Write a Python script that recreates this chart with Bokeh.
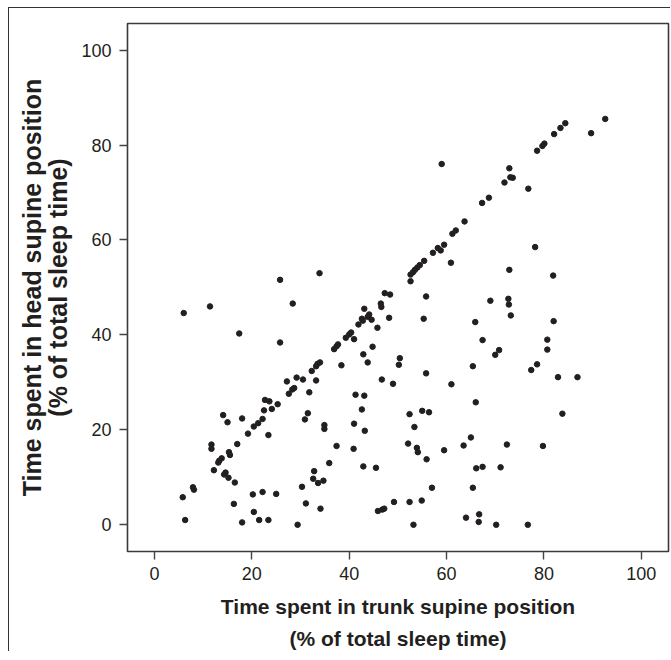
from bokeh.plotting import figure
from bokeh.models import Range1d, FixedTicker, ColumnDataSource
from bokeh.embed import file_html
from bokeh.resources import INLINE

# Time in trunk supine position (% TST), time in head supine position (% TST)
points = [
    (92.6, 85.5), (89.7, 82.5), (84.4, 84.6), (83.4, 83.6), (82.1, 82.3), (80.1, 80.3),
    (79.7, 79.8), (78.6, 78.8), (72.9, 75.1), (73.1, 73.2), (73.6, 73.1), (71.9, 72.1),
    (76.8, 70.8), (59.0, 76.0), (68.7, 68.9), (67.3, 67.8), (63.7, 63.9), (61.9, 62.0),
    (61.2, 61.3), (59.5, 59.0), (58.2, 58.3), (58.8, 57.8), (57.2, 57.3), (55.4, 55.6),
    (60.9, 55.2), (54.5, 54.7), (54.0, 54.2), (53.5, 53.7), (53.1, 53.2), (52.6, 52.7),
    (72.9, 53.7), (78.2, 58.5), (81.9, 52.5), (25.8, 51.6), (33.9, 53.0),
    (52.6, 51.3), (47.3, 48.8), (48.4, 48.5), (55.8, 48.1), (6.0, 44.6), (11.4, 46.0),
    (28.4, 46.6), (69.0, 47.2), (72.7, 47.6), (72.8, 46.4), (73.2, 44.1), (43.1, 45.5),
    (46.5, 46.6), (46.6, 45.9), (44.1, 44.3), (43.8, 43.8), (42.6, 43.4), (42.8, 43.0),
    (41.9, 42.2), (44.6, 43.2), (48.2, 43.6), (55.3, 43.4), (45.8, 41.5), (65.9, 42.7),
    (82.0, 42.9), (17.4, 40.3), (40.0, 40.1), (40.4, 40.5), (39.3, 39.4), (41.0, 39.1),
    (67.4, 38.9), (25.8, 38.4), (37.7, 38.0), (37.4, 37.6), (36.9, 37.0), (44.8, 37.5),
    (80.7, 39.0), (80.7, 36.9), (70.8, 36.8), (70.0, 35.8), (42.9, 35.9), (50.4, 35.1),
    (50.2, 33.7), (43.8, 34.2), (34.0, 34.2), (33.5, 33.9), (33.2, 33.4), (38.4, 33.6),
    (65.4, 33.4), (78.6, 33.8), (77.4, 32.6), (55.8, 31.9), (32.3, 32.4), (29.2, 31.0),
    (30.5, 30.6), (33.2, 30.4), (27.2, 30.2), (46.7, 30.6), (49.0, 29.7), (61.0, 29.6),
    (82.9, 31.1), (86.9, 31.1), (28.7, 28.8), (28.3, 28.5), (27.6, 27.6), (31.8, 27.9),
    (41.3, 27.4), (43.1, 27.2), (22.7, 26.3), (23.6, 26.0), (25.3, 25.4), (22.5, 24.1),
    (24.1, 24.4), (42.6, 24.3), (66.0, 25.8), (14.1, 23.1), (18.0, 22.4), (15.0, 21.6),
    (22.2, 22.3), (21.3, 21.4), (20.4, 20.7), (19.2, 19.2), (23.4, 18.9), (31.5, 23.5),
    (30.9, 22.2), (34.9, 21.0), (34.9, 20.2), (41.0, 21.3), (43.2, 19.8), (52.4, 23.3),
    (55.0, 24.0), (56.4, 23.7), (53.4, 20.6), (83.8, 23.4), (65.0, 18.4), (63.5, 16.7),
    (72.4, 16.9), (79.8, 16.6), (59.5, 15.7), (52.1, 17.1), (53.9, 16.2), (54.1, 15.3),
    (55.9, 13.8), (40.9, 16.0), (37.4, 16.6), (17.0, 17.0), (11.7, 16.9), (11.7, 16.0),
    (15.3, 15.3), (15.5, 14.7), (13.8, 14.0), (13.3, 13.5), (13.1, 13.1), (12.2, 11.5),
    (14.6, 11.0), (14.3, 10.6), (15.2, 9.9), (16.5, 8.9), (35.9, 13.0), (42.9, 12.3),
    (45.5, 12.0), (66.1, 11.9), (67.4, 12.2), (71.1, 12.1), (32.8, 11.3), (32.6, 9.7),
    (33.6, 8.8), (34.7, 9.3), (30.3, 8.0), (7.9, 7.9), (8.1, 7.4), (5.8, 5.8),
    (20.2, 6.4), (22.2, 6.9), (25.0, 6.5), (16.3, 4.4), (31.1, 4.5), (57.0, 7.8),
    (65.4, 7.8), (49.2, 4.8), (52.4, 4.8), (54.9, 5.1), (45.9, 2.9), (46.8, 3.2),
    (47.2, 3.4), (34.1, 3.4), (20.4, 2.7), (6.3, 1.0), (21.5, 1.0), (23.4, 1.0),
    (18.0, 0.5), (29.4, 0.0), (53.2, 0.0), (64.0, 1.5), (66.7, 2.2), (66.6, 0.6),
    (70.2, 0.0), (76.7, 0.0),
]
trunk_supine = [p[0] for p in points]
head_supine = [p[1] for p in points]
tick_values = [0, 20, 40, 60, 80, 100]

FONT = "Liberation Sans"
INK = "#231f20"

p = figure(width=662, height=644, output_backend="svg", toolbar_location=None,
           x_range=Range1d(-5.55, 105.6), y_range=Range1d(-5.63, 105.6),
           min_border_left=118, min_border_top=15, min_border_right=3,
           min_border_bottom=101)
p.styles = {"margin-top": "7px", "margin-left": "8px",
            "border-top": "1px solid #333333", "border-left": "1px solid #333333"}

src = ColumnDataSource(dict(x=trunk_supine, y=head_supine))
p.scatter("x", "y", source=src, size=5.5, color=INK, line_color=INK)

p.grid.visible = False
p.outline_line_color = "#3a3a3a"
p.outline_line_width = 1.6

for ax in (p.xaxis[0], p.yaxis[0]):
    ax.ticker = FixedTicker(ticks=tick_values)
    ax.axis_line_color = None
    ax.major_tick_line_color = "#444444"
    ax.major_tick_line_width = 1.4
    ax.major_tick_in = 0
    ax.major_tick_out = 8
    ax.minor_tick_line_color = None
    ax.major_label_text_font = FONT
    ax.major_label_text_font_size = "18px"
    ax.major_label_text_color = INK
    ax.axis_label_text_font = FONT
    ax.axis_label_text_font_style = "bold"
    ax.axis_label_text_color = INK

p.xaxis.major_label_standoff = 7
p.yaxis.major_label_standoff = 8
p.xaxis.axis_label = "Time spent in trunk supine position\n(% of total sleep time)"
p.yaxis.axis_label = "Time spent in head supine position\n(% of total sleep time)"
p.xaxis.axis_label_text_font_size = "21px"
p.xaxis.axis_label_text_line_height = 1.4
p.yaxis.axis_label_text_font_size = "25px"
p.yaxis.axis_label_text_line_height = 0.95
p.xaxis.axis_label_standoff = 12
p.yaxis.axis_label_standoff = 6

open("out.html", "w").write(file_html(p, INLINE))
